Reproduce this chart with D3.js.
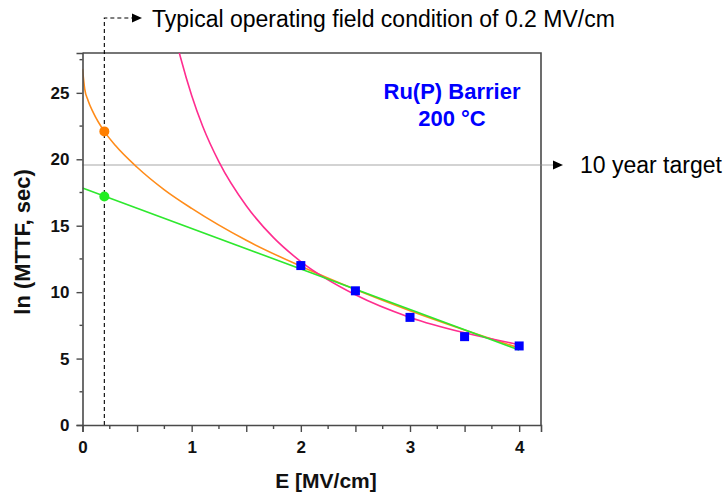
<!DOCTYPE html>
<html>
<head>
<meta charset="utf-8">
<script src="https://cdn.jsdelivr.net/npm/d3@7"></script>
<style>
  html, body { margin: 0; padding: 0; background: #fff; }
  svg { display: block; font-family: "Liberation Sans", Arial, sans-serif; }
</style>
</head>
<body>
<svg id="chart" width="727" height="495"></svg>
<script>
// Measured lifetimes at 200 °C (E in MV/cm, ln of MTTF in seconds)
const fieldE = [2, 2.5, 3, 3.5, 4];
const lnMTTF = [12.0, 10.1, 8.1, 6.65, 5.95];

// Model extrapolations sampled along each fit
const eModelE = [0, 4];
const eModelY = [17.84, 5.65];

const sqrtModelE = [0, 0.02, 0.05, 0.1, 0.2, 0.3, 0.5, 0.75, 1, 1.5, 2, 2.5, 3, 3.5, 4];
const sqrtModelY = [26.8, 25.3, 24.45, 23.5, 22.1, 21.05, 19.4, 17.7, 16.3, 13.9, 11.95, 10.2, 8.6, 7.15, 5.8];

const invModelE = [0.85, 0.9, 1.0, 1.1, 1.25, 1.5, 1.75, 2, 2.5, 3, 3.5, 4];
const invModelY = [29.2, 27.6, 24.8, 22.5, 19.8, 16.5, 14.1, 12.3, 9.8, 8.1, 6.94, 6.05];

// Operating point and the 10-year lifetime target
const operatingE = 0.2;
const operatingPoints = [
  { y: 22.1, color: "#ff7f00" },
  { y: 17.2, color: "#22ee22" }
];
const targetLn = 19.57;

const xMajorTicks = [0, 0.5, 1, 1.5, 2, 2.5, 3, 3.5, 4];
const xMinorTicks = [0.25, 0.75, 1.25, 1.75, 2.25, 2.75, 3.25, 3.75];
const yMajorTicks = [0, 5, 10, 15, 20, 25];
const yMinorTicks = [2.5, 7.5, 12.5, 17.5, 22.5, 27.5];

const svg = d3.select("#chart");
const plotLeft = 82.5, plotTop = 53, plotRight = 541, plotBottom = 425;

const x = d3.scaleLinear().domain([0, 4.2]).range([plotLeft, plotRight]);
const y = d3.scaleLinear().domain([0, 28]).range([plotBottom, plotTop]);

const axisColor = "#4a4a4a";

svg.append("defs").append("clipPath").attr("id", "plotClip")
  .append("rect").attr("x", plotLeft).attr("y", plotTop)
  .attr("width", plotRight - plotLeft).attr("height", plotBottom - plotTop);

// Frame top and right
svg.append("path")
  .attr("d", `M${plotLeft},${plotTop}H${plotRight}V${plotBottom}`)
  .attr("fill", "none").attr("stroke", axisColor).attr("stroke-width", 1.6);

// Ten-year target line with arrow
svg.append("line")
  .attr("x1", plotLeft).attr("x2", 553)
  .attr("y1", y(targetLn)).attr("y2", y(targetLn))
  .attr("stroke", "#8a8a8a").attr("stroke-width", 1.4)
  .attr("stroke-dasharray", "1,1");
svg.append("path")
  .attr("d", `M553,${y(targetLn) - 4.5}L563,${y(targetLn)}L553,${y(targetLn) + 4.5}Z`)
  .attr("fill", "#000");
svg.append("text")
  .attr("x", 580).attr("y", y(targetLn) + 8)
  .attr("font-size", 23).attr("fill", "#000")
  .text("10 year target");

// Operating field marker and its callout
const xo = x(operatingE);
svg.append("path")
  .attr("d", `M${xo},${plotBottom}V18H132`)
  .attr("fill", "none").attr("stroke", "#000").attr("stroke-width", 1.1)
  .attr("stroke-dasharray", "4,3");
svg.append("path")
  .attr("d", `M132,13.5L142,18L132,22.5Z`)
  .attr("fill", "#000");
svg.append("text")
  .attr("x", 152).attr("y", 27)
  .attr("font-size", 23).attr("fill", "#000")
  .text("Typical operating field condition of 0.2 MV/cm");

// Fits
const plot = svg.append("g").attr("clip-path", "url(#plotClip)");
const line = d3.line().x(d => x(d[0])).y(d => y(d[1])).curve(d3.curveMonotoneX);

plot.append("path")
  .datum(sqrtModelE.map((e, i) => [e, sqrtModelY[i]]))
  .attr("d", line).attr("fill", "none")
  .attr("stroke", "#ff8c1a").attr("stroke-width", 1.6);
plot.append("path")
  .datum(invModelE.map((e, i) => [e, invModelY[i]]))
  .attr("d", line).attr("fill", "none")
  .attr("stroke", "#ff2d8f").attr("stroke-width", 1.6);
plot.append("path")
  .datum(eModelE.map((e, i) => [e, eModelY[i]]))
  .attr("d", line).attr("fill", "none")
  .attr("stroke", "#2ee82e").attr("stroke-width", 1.6);

// Axes
const xAxis = svg.append("g").attr("transform", `translate(0,${plotBottom})`)
  .call(d3.axisBottom(x).tickValues(xMajorTicks).tickSize(7)
    .tickFormat(d => Number.isInteger(d) ? d3.format("d")(d) : ""));
xAxis.append("g").selectAll("line").data(xMinorTicks).join("line")
  .attr("x1", d => x(d)).attr("x2", d => x(d)).attr("y1", 0).attr("y2", 4)
  .attr("stroke", axisColor).attr("stroke-width", 1.4);

const yAxis = svg.append("g").attr("transform", `translate(${plotLeft},0)`)
  .call(d3.axisLeft(y).tickValues(yMajorTicks).tickSize(6).tickFormat(d3.format("d")));
yAxis.append("g").selectAll("line").data(yMinorTicks).join("line")
  .attr("x1", -3).attr("x2", 0).attr("y1", d => y(d)).attr("y2", d => y(d))
  .attr("stroke", axisColor).attr("stroke-width", 1.4);

[xAxis, yAxis].forEach(g => {
  g.select(".domain").attr("stroke", axisColor).attr("stroke-width", 1.6);
  g.selectAll(".tick line").attr("stroke", axisColor).attr("stroke-width", 1.4);
  g.selectAll(".tick text")
    .attr("font-family", "'Liberation Sans', Arial, sans-serif")
    .attr("font-size", 17).attr("font-weight", "bold").attr("fill", "#111");
});
xAxis.selectAll(".tick text").attr("dy", "1.05em");
yAxis.selectAll(".tick text").attr("x", -13);

// Measured points
svg.append("g").selectAll("rect")
  .data(fieldE.map((e, i) => [e, lnMTTF[i]]))
  .join("rect")
  .attr("x", d => x(d[0]) - 4.5).attr("y", d => y(d[1]) - 4.5)
  .attr("width", 9).attr("height", 9)
  .attr("fill", "#0000ff");

// Extrapolated values at the operating field
svg.append("g").selectAll("circle")
  .data(operatingPoints).join("circle")
  .attr("cx", xo).attr("cy", d => y(d.y)).attr("r", 5)
  .attr("fill", d => d.color);

// Axis titles
svg.append("text")
  .attr("x", 326).attr("y", 488).attr("text-anchor", "middle")
  .attr("font-size", 21).attr("font-weight", "bold").attr("fill", "#111")
  .text("E [MV/cm]");
svg.append("text")
  .attr("transform", "translate(30,242) rotate(-90)")
  .attr("text-anchor", "middle")
  .attr("font-size", 22).attr("font-weight", "bold").attr("fill", "#111")
  .text("ln (MTTF, sec)");

// Condition label
const cond = svg.append("text")
  .attr("text-anchor", "middle").attr("font-size", 22)
  .attr("font-weight", "bold").attr("fill", "#0000ff");
cond.append("tspan").attr("x", 452).attr("y", 99).text("Ru(P) Barrier");
cond.append("tspan").attr("x", 452).attr("y", 126).text("200 °C");
</script>
</body>
</html>
